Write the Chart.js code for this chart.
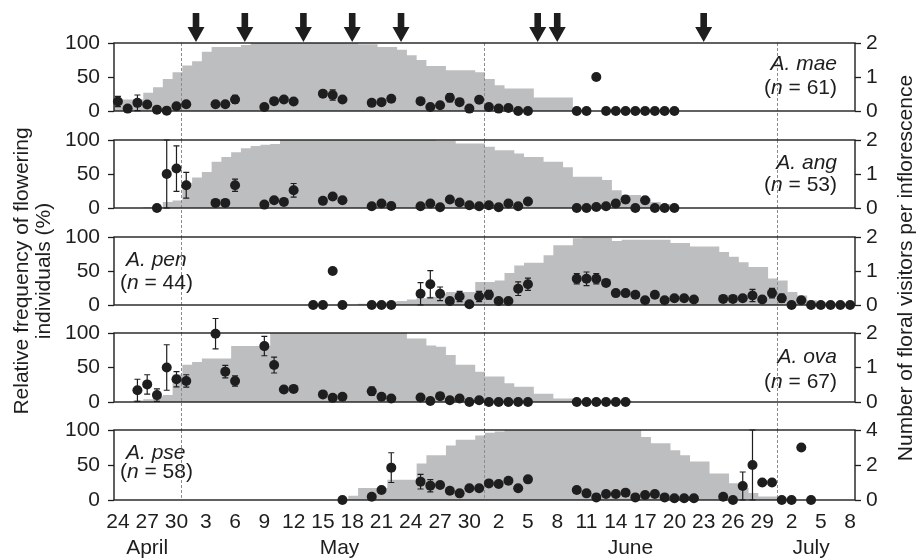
<!DOCTYPE html>
<html>
<head>
<meta charset="utf-8">
<script src="https://cdn.jsdelivr.net/npm/chart.js@4.4.1/dist/chart.umd.min.js"></script>
<style>
html, body { margin: 0; padding: 0; background: #fff; }
#wrap { position: relative; width: 917px; height: 560px; }
#wrap canvas { position: absolute; left: 0; top: 0; }
</style>
</head>
<body>
<div id="wrap"></div>
<script>
// day 0 = 24 April
const tickDays = [0, 3, 6, 9, 12, 15, 18, 21, 24, 27, 30, 33, 36, 39, 42, 45, 48, 51, 54, 57, 60, 63, 66, 69, 72, 75];
const tickLabels = ['24', '27', '30', '3', '6', '9', '12', '15', '18', '21', '24', '27', '30', '2', '5', '8', '11', '14', '17', '20', '23', '26', '29', '2', '5', '8'];
const months = ['April', 'May', 'June', 'July'];
const monthDays = [3, 22.7, 52.5, 71];
const monthStarts = [6.5, 37.5, 67.5];
const arrowDays = [8, 13, 19, 24, 29, 43, 45, 60];

// relative frequency of flowering individuals (%), one value per day
const maeFlower = [17,17,17,27,35,47,57,67,73,87, 94,94,94,97,100,100,100,100,100,100, 100,100,100,100,100,98,98,94,94,90, 82,75,66,66,60,60,60,57,47,38, 33,33,33,20,20,20,20,0,0,0, 0,0,0,0,0,0,0,0,0,0, 0,0,0,0,0,0,0,0,0,0, 0,0,0,0,0,0];
const angFlower = [0,0,0,1,1,9,11,37,45,53, 68,75,82,88,91,93,94,100,100,100, 100,100,100,100,100,100,100,100,100,100, 100,100,100,99,99,95,95,95,90,85, 85,80,75,75,68,68,60,46,46,46, 41,26,19,19,14,9,6,0,0,0, 0,0,0,0,0,0,0,0,0,0, 0,0,0,0,0,0];
const penFlower = [0,0,0,0,0,0,0,0,0,0, 0,0,0,0,0,0,0,0,0,0, 0,0,0,0,0,2,3,4,5,6, 8,10,12,17,19,19,19,34,34,36, 47,58,62,62,73,88,88,98,99,99, 99,94,96,96,96,96,96,91,91,86, 86,86,78,71,63,56,56,39,36,19, 14,7,4,3,2,2];
const ovaFlower = [0,0,2,4,8,10,40,54,58,63, 63,63,81,81,81,81,100,100,100,100, 100,100,100,100,100,100,100,100,100,100, 92,92,82,80,68,54,54,44,37,37, 27,22,22,12,12,5,5,2,2,2, 2,2,2,0,0,0,0,0,0,0, 0,0,0,0,0,0,0,0,0,0, 0,0,0,0,0,0];
const pseFlower = [0,0,0,0,0,0,0,0,0,0, 0,0,0,0,0,0,0,0,0,0, 0,0,0,0,6,17,17,17,29,29, 29,52,64,64,78,86,86,92,96,98, 100,100,100,100,100,100,100,100,100,100, 100,100,100,100,90,81,81,71,64,55, 55,38,38,24,17,10,5,5,2,0, 0,0,0,0,0,0];

// floral visitors per inflorescence (mean, error)
const maeDays = [0,1,2,3,4,5,6,7,10,11,12,15,16,17,18,21,22,23,26,27,28,31,32,33,34,35,36,37,38,39,40,41,42,47,48,49,50,51,52,53,54,55,56,57];
const maeVisits = [0.28,0.07,0.24,0.19,0.04,0.01,0.14,0.2, 0.2,0.2,0.34, 0.12,0.29,0.34,0.28, 0.51,0.47,0.34, 0.24,0.26,0.36, 0.29,0.12,0.17,0.39,0.26,0.07,0.33,0.12,0.07,0.09,0,0, 0,0,1.0,0,0,0,0,0,0,0,0];
const maeErr = [0.15,0,0.23,0,0,0,0,0, 0,0,0.12, 0,0,0,0, 0,0.15,0, 0,0,0, 0,0,0,0.12,0,0,0.09,0,0,0,0,0, 0,0,0,0,0,0,0,0,0,0,0];

const angDays = [4,5,6,7,10,11,12,15,16,17,18,21,22,23,26,27,28,31,32,33,34,35,36,37,38,39,40,41,42,47,48,49,50,51,52,53,54,55,56,57];
const angVisits = [0,1.0,1.16,0.67, 0.15,0.15,0.67, 0.1,0.23,0.18,0.52, 0.21,0.34,0.23, 0.05,0.13,0.06, 0.05,0.13,0.02,0.25,0.16,0.08,0.05,0.08,0.02,0.13,0.05,0.19, 0,0,0.03,0.05,0.13,0.25,0,0.23,0,0,0];
const angErr = [0,1.0,0.67,0.38, 0,0,0.18, 0,0,0,0.2, 0,0,0, 0,0,0, 0,0,0,0,0,0,0,0,0,0,0,0, 0,0,0,0,0,0.1,0,0.1,0,0,0];

const penDays = [20,21,22,23,26,27,28,31,32,33,34,35,36,37,38,39,40,41,42,47,48,49,50,51,52,53,54,55,56,57,58,59,62,63,64,65,66,67,68,69,70,71,72,73,74,75];
const penVisits = [0,0,1.0,0, 0,0,0, 0.33,0.61,0.33,0.12,0.25,0.02,0.25,0.3,0.12,0.12,0.48,0.61, 0.77,0.77,0.77,0.65,0.35,0.35,0.3,0.14,0.3,0.14,0.2,0.2,0.16, 0.18,0.18,0.2,0.28,0.16,0.35,0.2,0,0.14,0,0,0,0,0];
const penErr = [0,0,0,0, 0,0,0, 0.33,0.4,0.2,0,0.15,0,0.15,0.13,0,0,0.2,0.18, 0.15,0.2,0.15,0,0,0,0,0,0,0,0,0,0, 0,0,0,0.18,0,0.14,0.12,0,0,0,0,0,0,0];

const ovaDays = [2,3,4,5,6,7,10,11,12,15,16,17,18,21,22,23,26,27,28,31,32,33,34,35,36,37,38,39,40,41,42,47,48,49,50,51,52];
const ovaVisits = [0.34,0.51,0.2,1.0,0.66,0.61, 1.98,0.88,0.61, 1.62,1.07,0.36,0.38, 0.22,0.12,0.15, 0.31,0.15,0.1, 0.13,0.03,0.17,0.05,0.1,0,0.05,0,0,0,0,0, 0,0,0,0,0,0];
const ovaErr = [0.32,0.28,0.18,0.66,0.22,0.18, 0.44,0.18,0.15, 0.28,0.23,0,0, 0,0,0, 0.12,0,0, 0,0,0,0,0,0,0,0,0,0,0,0, 0,0,0,0,0,0];

const pseDays = [23,26,27,28,31,32,33,34,35,36,37,38,39,40,41,42,47,48,49,50,51,52,53,54,55,56,57,58,59,62,63,64,65,66,67,68,69,70,71];
const pseVisits = [0, 0.19,0.57,1.85, 1.05,0.82,0.86,0.53,0.38,0.67,0.67,0.95,0.91,1.1,0.67,1.18, 0.57,0.38,0.15,0.34,0.34,0.42,0.15,0.29,0.34,0.15,0.1,0.1,0.1, 0.19,0,0.8,2.0,1.0,1.0,0,0,3.0,0];
const pseErr = [0, 0,0,0.85, 0.42,0.35,0,0,0,0,0,0.12,0,0,0,0, 0,0,0,0,0,0,0,0,0,0,0,0,0, 0,0,0.8,2.0,0,0,0,0,0,0];

const FONT = "'Liberation Sans', Arial, Helvetica, sans-serif";
const INK = '#1e1e1e';
const BAR = '#bcbec0';
const X_MIN = -0.4, X_MAX = 75.5;

const panels = [
    { name: 'A. mae', n: 61, flower: maeFlower, days: maeDays, visits: maeVisits, err: maeErr, top: 43, bottom: 111, vmax: 2, side: 'right', labY: [21, 45] },
    { name: 'A. ang', n: 53, flower: angFlower, days: angDays, visits: angVisits, err: angErr, top: 140, bottom: 208, vmax: 2, side: 'right', labY: [23, 45] },
    { name: 'A. pen', n: 44, flower: penFlower, days: penDays, visits: penVisits, err: penErr, top: 237, bottom: 305, vmax: 2, side: 'left', labY: [23, 46] },
    { name: 'A. ova', n: 67, flower: ovaFlower, days: ovaDays, visits: ovaVisits, err: ovaErr, top: 333, bottom: 402, vmax: 2, side: 'right', labY: [24, 49] },
    { name: 'A. pse', n: 58, flower: pseFlower, days: pseDays, visits: pseVisits, err: pseErr, top: 430, bottom: 500, vmax: 4, side: 'left', labY: [23, 42] },
];

function drawSpecies(ctx, p, area) {
    const y1 = area.top + p.labY[0], y2 = area.top + p.labY[1];
    ctx.fillStyle = INK;
    ctx.textBaseline = 'middle';
    const it = `italic 21px ${FONT}`, rg = `21px ${FONT}`;
    const parts = [['(', rg], ['n', it], [' = ' + p.n + ')', rg]];
    ctx.font = it;
    const w1 = ctx.measureText(p.name).width;
    let w2 = 0;
    parts.forEach(([t, f]) => { ctx.font = f; w2 += ctx.measureText(t).width; });
    let x1, x2;
    if (p.side === 'right') {
        x1 = area.right - 18 - w1;
        x2 = area.right - 18 - w2;
    } else {
        x1 = area.left + 12;
        x2 = area.left + 6;
    }
    ctx.textAlign = 'left';
    ctx.font = it;
    ctx.fillText(p.name, x1, y1);
    parts.forEach(([t, f]) => {
        ctx.font = f;
        ctx.fillText(t, x2, y2);
        x2 += ctx.measureText(t).width;
    });
}

function panelPlugin(p, i) {
    return {
        id: 'panel' + i,
        afterDatasetDraw(chart, args) {
            if (args.index !== 0) return;
            const ctx = chart.ctx, a = chart.chartArea, xs = chart.scales.x, ys = chart.scales.y2;
            const next = panels[i + 1];
            const lineEnd = next ? next.top : a.bottom;
            ctx.save();
            // month boundaries
            ctx.strokeStyle = '#8c8c8c';
            ctx.lineWidth = 1;
            ctx.setLineDash([3, 2]);
            monthStarts.forEach(d => {
                const x = Math.round(xs.getPixelForValue(d)) + 0.5;
                ctx.beginPath();
                ctx.moveTo(x, a.top);
                ctx.lineTo(x, lineEnd);
                ctx.stroke();
            });
            ctx.setLineDash([]);
            // frame
            ctx.strokeStyle = INK;
            ctx.lineWidth = 1.4;
            ctx.strokeRect(a.left, a.top, a.right - a.left, a.bottom - a.top);
            // error bars
            ctx.lineWidth = 1.2;
            p.days.forEach((d, k) => {
                const e = p.err[k];
                if (!e) return;
                const x = xs.getPixelForValue(d);
                const yt = ys.getPixelForValue(p.visits[k] + e);
                const yb = ys.getPixelForValue(Math.max(p.visits[k] - e, 0));
                ctx.beginPath();
                ctx.moveTo(x, yt); ctx.lineTo(x, yb);
                ctx.moveTo(x - 3, yt); ctx.lineTo(x + 3, yt);
                ctx.moveTo(x - 3, yb); ctx.lineTo(x + 3, yb);
                ctx.stroke();
            });
            ctx.restore();
        },
        afterDraw(chart) {
            const ctx = chart.ctx, a = chart.chartArea, xs = chart.scales.x;
            ctx.save();
            drawSpecies(ctx, p, a);
            if (i === 0) {
                // sampling dates
                ctx.fillStyle = INK;
                arrowDays.forEach(d => {
                    const x = xs.getPixelForValue(d);
                    ctx.beginPath();
                    ctx.moveTo(x - 3.3, a.top - 30);
                    ctx.lineTo(x + 3.3, a.top - 30);
                    ctx.lineTo(x + 3.3, a.top - 16);
                    ctx.lineTo(x + 8.5, a.top - 16);
                    ctx.lineTo(x, a.top - 1);
                    ctx.lineTo(x - 8.5, a.top - 16);
                    ctx.lineTo(x - 3.3, a.top - 16);
                    ctx.closePath();
                    ctx.fill();
                });
            }
            if (i === panels.length - 1) {
                ctx.fillStyle = INK;
                ctx.font = `21px ${FONT}`;
                ctx.textAlign = 'center';
                ctx.textBaseline = 'middle';
                months.forEach((m, k) => ctx.fillText(m, xs.getPixelForValue(monthDays[k]), a.bottom + 48));
                ctx.save();
                ctx.translate(22, 271);
                ctx.rotate(-Math.PI / 2);
                ctx.fillText('Relative frequency of flowering', 0, 0);
                ctx.fillText('individuals (%)', 0, 22);
                ctx.restore();
                ctx.save();
                ctx.translate(906, 268);
                ctx.rotate(-Math.PI / 2);
                ctx.fillText('Number of floral visitors per inflorescence', 0, 0);
                ctx.restore();
            }
            ctx.restore();
        }
    };
}

const wrap = document.getElementById('wrap');
const xAxisH = 32;

panels.forEach((p, i) => {
    const canvas = document.createElement('canvas');
    canvas.width = 917;
    canvas.height = 560;
    wrap.appendChild(canvas);
    const last = i === panels.length - 1;
    const steps = p.flower.map((v, d) => ({ x: d - 0.4, y: v }));
    steps.push({ x: X_MAX, y: p.flower[p.flower.length - 1] });
    const tickFont = { family: FONT, size: 21 };

    new Chart(canvas, {
        type: 'scatter',
        data: {
            datasets: [
                {
                    type: 'line', data: steps, yAxisID: 'y', order: 2,
                    stepped: true, fill: 'origin', backgroundColor: BAR,
                    borderColor: 'rgba(0,0,0,0)', borderWidth: 0, pointRadius: 0
                },
                {
                    data: p.days.map((d, k) => ({ x: d, y: p.visits[k] })), yAxisID: 'y2', order: 1,
                    pointRadius: 5, backgroundColor: INK, borderWidth: 0, clip: false
                }
            ]
        },
        options: {
            responsive: false,
            animation: false,
            events: [],
            layout: { padding: { top: p.top, bottom: last ? 560 - p.bottom - xAxisH : 560 - p.bottom, left: 0, right: 0 } },
            plugins: { legend: { display: false }, tooltip: { enabled: false } },
            scales: {
                x: {
                    type: 'linear', min: X_MIN, max: X_MAX, display: last,
                    afterBuildTicks: s => { s.ticks = tickDays.map(v => ({ value: v })); },
                    afterFit: s => { s.height = last ? xAxisH : 0; },
                    grid: { display: false }, border: { display: false },
                    ticks: { font: tickFont, color: INK, padding: 2, autoSkip: false, maxRotation: 0,
                        callback: v => tickLabels[tickDays.indexOf(v)] }
                },
                y: {
                    position: 'left', min: 0, max: 100,
                    afterFit: s => { s.width = 114; },
                    grid: { drawOnChartArea: false, tickLength: 6, tickColor: INK, tickWidth: 1.3 },
                    border: { display: false },
                    ticks: { font: tickFont, color: INK, stepSize: 50, padding: 8, autoSkip: false }
                },
                y2: {
                    position: 'right', min: 0, max: p.vmax,
                    afterFit: s => { s.width = 917 - 855; },
                    grid: { drawOnChartArea: false, tickLength: 6, tickColor: INK, tickWidth: 1.3 },
                    border: { display: false },
                    ticks: { font: tickFont, color: INK, stepSize: p.vmax / 2, padding: 5, autoSkip: false }
                }
            }
        },
        plugins: [panelPlugin(p, i)]
    });
});
</script>
</body>
</html>
